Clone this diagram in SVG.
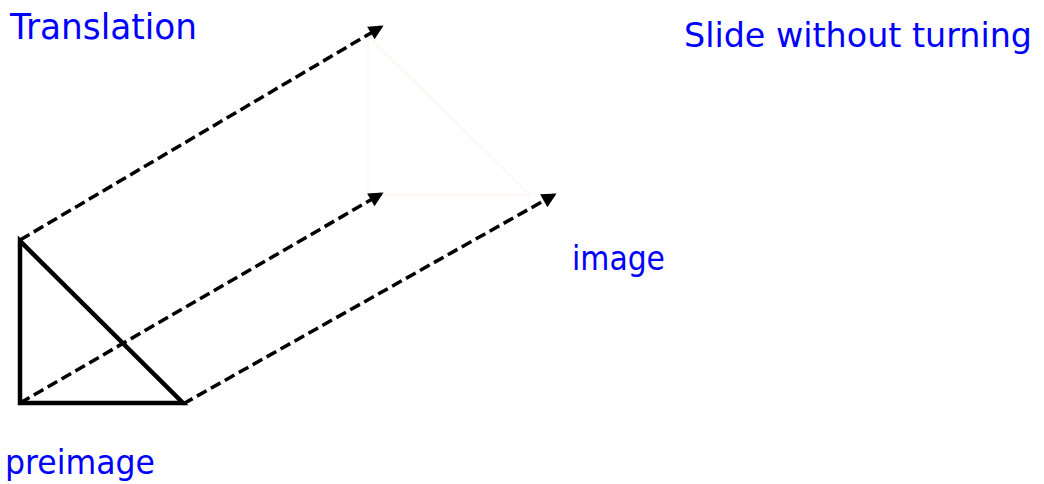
<svg xmlns="http://www.w3.org/2000/svg" width="1044" height="484" viewBox="0 0 1044 484">
<style>
.lbl{font-family:"DejaVu Sans","Liberation Sans",sans-serif;fill:#0000FF}
.dash{fill:none;stroke:#000;stroke-width:3.5;stroke-dasharray:11 5;marker-end:url(#ah)}
.tri{fill:none;stroke:#000;stroke-width:4.5;stroke-linejoin:miter}
.ghost{fill:none;stroke:#FFF7F5;stroke-width:2}
</style>
<defs>
<marker id="ah" viewBox="0 0 10 10" refX="8" refY="5" markerWidth="5" markerHeight="4.2" orient="auto" markerUnits="strokeWidth">
<path d="M0,0 L10,5 L0,10 z" fill="#000"/>
</marker>
</defs>
<g id="title"><text class="lbl" x="10" y="39" font-size="35" textLength="187" lengthAdjust="spacingAndGlyphs">Translation</text></g>
<g id="subtitle"><text class="lbl" x="684" y="47" font-size="33" textLength="348" lengthAdjust="spacingAndGlyphs">Slide without turning</text></g>
<g id="image-label"><text class="lbl" x="572" y="270" font-size="33" textLength="93" lengthAdjust="spacingAndGlyphs">image</text></g>
<g id="preimage-label"><text class="lbl" x="5" y="474" font-size="33" textLength="150" lengthAdjust="spacingAndGlyphs">preimage</text></g>
<g id="image"><polygon class="ghost" points="368,36 368,195 530,195"/></g>
<g id="preimage"><polygon class="tri" points="20,241 20,403 183,403"/></g>
<g id="connectors">
<line class="dash" x1="20" y1="240" x2="381" y2="27"/>
<line class="dash" x1="20" y1="403" x2="381" y2="194"/>
<line class="dash" x1="183" y1="404" x2="554" y2="195"/>
</g>
</svg>
